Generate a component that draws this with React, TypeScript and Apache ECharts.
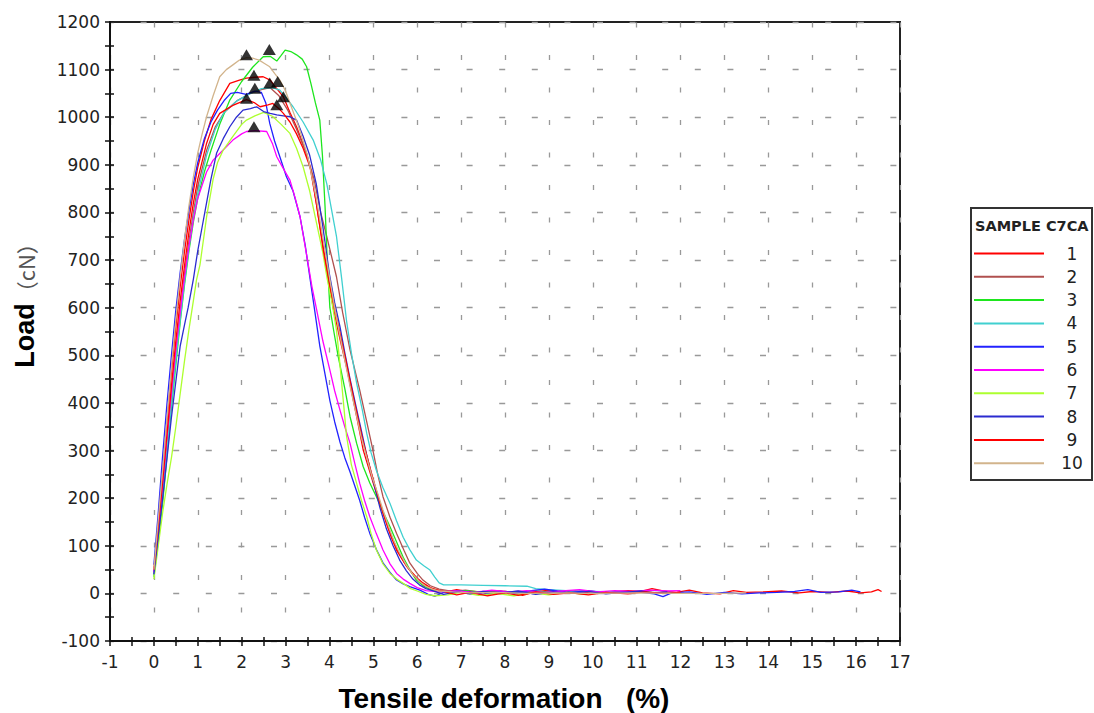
import React, { useEffect, useRef } from "react";
import * as echarts from "echarts";

const sampleNames = ["1", "2", "3", "4", "5", "6", "7", "8", "9", "10"];
const sampleColors = ["#ff0000", "#b0504f", "#1ee61e", "#40d0d0", "#2222ff", "#ff00ff", "#adff2f", "#2b2bd0", "#ff0000", "#d2b48c"];

const s1 = [[0,40],[0.1,150],[0.2,255],[0.3,360],[0.4,465],[0.5,560],[0.6,645],[0.7,720],[0.8,785],[0.9,845],[1.0,895],[1.15,950],[1.3,995],[1.5,1035],[1.73,1071],[1.95,1078],[2.11,1082],[2.3,1084],[2.49,1085],[2.65,1078],[2.8,1060],[2.95,1043],[3.1,1010],[3.25,980],[3.48,924],[3.6,880],[3.75,790],[3.9,705],[4.08,602],[4.25,530],[4.39,475],[4.62,371],[4.77,301],[5.0,231],[5.22,168],[5.4,120],[5.53,91],[5.7,65],[5.83,49],[6.0,32],[6.13,22],[6.3,12],[6.5,6],[6.7,4],[6.9,8],[7.2,3],[7.5,-2],[7.8,5],[8.1,2],[8.4,-4],[8.7,3],[9.0,7],[9.3,2],[9.6,5],[10.0,0],[10.4,3],[10.8,6],[11.1,4],[11.35,10],[11.6,5],[11.9,2],[12.2,7],[12.5,1],[12.9,-1],[13.2,6],[13.5,2],[13.9,3],[14.3,5],[14.7,1],[15.0,4],[15.4,2],[15.8,5],[16.1,1],[16.35,3],[16.5,8],[16.58,4]];
const s2 = [[0,45],[0.1,130],[0.2,220],[0.3,320],[0.4,415],[0.5,505],[0.6,590],[0.7,670],[0.8,740],[0.9,800],[1.0,855],[1.2,930],[1.4,980],[1.6,1010],[1.9,1035],[2.2,1050],[2.45,1058],[2.65,1062],[2.85,1045],[3.05,1015],[3.25,975],[3.45,930],[3.65,870],[3.8,800],[3.94,749],[4.16,665],[4.3,590],[4.47,511],[4.69,427],[4.85,360],[4.99,301],[5.1,250],[5.22,203],[5.38,160],[5.53,126],[5.7,90],[5.83,64],[6.0,42],[6.13,28],[6.3,16],[6.5,9],[6.8,4],[7.1,7],[7.5,2],[7.9,5],[8.3,1],[8.8,4],[9.3,2],[9.8,5],[10.3,1],[10.8,3],[11.2,2]];
const s3 = [[0,35],[0.1,110],[0.2,190],[0.3,290],[0.4,390],[0.5,480],[0.6,570],[0.7,650],[0.8,720],[0.9,780],[1.0,830],[1.15,885],[1.3,930],[1.5,985],[1.73,1036],[2.0,1075],[2.25,1105],[2.49,1127],[2.65,1128],[2.8,1118],[2.9,1130],[2.99,1141],[3.12,1138],[3.25,1131],[3.38,1122],[3.48,1106],[3.58,1070],[3.68,1030],[3.78,994],[3.84,920],[3.9,812],[3.95,700],[4.01,600],[4.1,550],[4.2,497],[4.35,430],[4.47,371],[4.62,315],[4.77,266],[4.92,232],[5.07,203],[5.22,172],[5.38,140],[5.53,108],[5.68,76],[5.83,50],[5.98,28],[6.15,15],[6.3,8],[6.5,4],[6.8,2],[7.1,6],[7.4,3],[7.7,0],[8.0,4],[8.4,1],[8.7,5],[9.0,2]];
const s4 = [[0,40],[0.1,125],[0.2,205],[0.3,300],[0.4,400],[0.5,490],[0.6,575],[0.7,655],[0.8,725],[0.9,790],[1.0,840],[1.2,920],[1.4,975],[1.6,1010],[1.9,1035],[2.2,1050],[2.45,1060],[2.7,1062],[2.87,1057],[3.02,1040],[3.17,1022],[3.4,990],[3.63,952],[3.8,910],[3.94,860],[4.05,805],[4.16,750],[4.28,660],[4.39,572],[4.5,505],[4.62,441],[4.75,385],[4.85,336],[4.95,295],[5.07,258],[5.22,222],[5.38,189],[5.53,152],[5.68,118],[5.83,92],[5.98,70],[6.15,58],[6.29,49],[6.4,34],[6.5,22],[6.6,18],[7.0,18],[7.5,17],[8.0,16],[8.5,15],[8.7,10],[9.0,8],[9.5,5],[10.0,4],[10.5,3],[11.0,2],[11.8,2]];
const s5 = [[0,60],[0.1,170],[0.2,290],[0.3,400],[0.4,500],[0.5,595],[0.6,675],[0.7,745],[0.8,805],[0.9,860],[1.0,905],[1.15,955],[1.3,990],[1.45,1015],[1.6,1035],[1.75,1050],[1.9,1052],[2.1,1048],[2.3,1055],[2.45,1052],[2.55,1030],[2.64,987],[2.75,950],[2.87,917],[3.02,875],[3.17,845],[3.33,791],[3.45,730],[3.56,660],[3.67,590],[3.78,520],[3.9,460],[4.01,405],[4.12,360],[4.24,318],[4.35,285],[4.47,255],[4.58,225],[4.69,195],[4.8,160],[4.92,126],[5.07,92],[5.22,64],[5.38,44],[5.53,28],[5.68,20],[5.83,14],[6.06,7],[6.25,-2],[6.4,-6],[6.6,2],[6.9,5],[7.2,3],[7.5,-2],[7.9,4],[8.2,0],[8.6,6],[8.9,9],[9.2,5],[9.5,2],[9.9,6],[10.3,1],[10.7,3],[11.1,2],[11.4,-1],[11.6,-7],[11.8,1],[12.2,3],[12.6,-2],[13.0,2],[13.4,-1],[13.8,1],[14.2,2],[14.6,4],[14.9,8],[15.2,2],[15.6,3],[15.9,7],[16.1,3]];
const s6 = [[0,45],[0.1,135],[0.2,230],[0.3,330],[0.4,420],[0.5,510],[0.6,590],[0.7,665],[0.8,730],[0.9,785],[1.0,830],[1.2,885],[1.35,910],[1.5,924],[1.8,952],[2.0,965],[2.11,970],[2.3,972],[2.57,970],[2.7,945],[2.8,917],[2.95,892],[3.1,868],[3.22,830],[3.33,791],[3.5,700],[3.6,645],[3.71,595],[3.85,530],[4.01,469],[4.12,425],[4.24,385],[4.35,350],[4.47,315],[4.58,272],[4.69,231],[4.8,195],[4.92,161],[5.07,125],[5.22,91],[5.38,62],[5.53,42],[5.68,30],[5.83,21],[6.0,12],[6.2,6],[6.5,3],[6.9,5],[7.3,2],[7.7,7],[8.1,3],[8.5,6],[8.9,2],[9.3,5],[9.7,8],[10.1,3],[10.5,6],[10.9,4],[11.3,7],[11.7,5],[12.0,6]];
const s7 = [[0,30],[0.1,100],[0.2,170],[0.3,230],[0.4,285],[0.5,350],[0.6,420],[0.7,490],[0.8,555],[0.9,615],[0.97,658],[1.05,690],[1.2,790],[1.35,870],[1.45,905],[1.58,931],[1.8,960],[2.0,985],[2.11,994],[2.3,1003],[2.5,1010],[2.7,1002],[2.9,985],[3.1,966],[3.25,935],[3.4,896],[3.55,845],[3.7,780],[3.85,715],[3.95,660],[4.06,610],[4.16,553],[4.22,500],[4.3,420],[4.39,330],[4.5,270],[4.62,231],[4.73,195],[4.85,161],[4.95,125],[5.07,91],[5.22,62],[5.38,42],[5.53,30],[5.68,21],[5.85,10],[6.0,5],[6.2,-2],[6.4,-5],[6.7,-3],[7.0,2],[7.4,-4],[7.8,0],[8.2,-5],[8.6,1],[9.0,-3],[9.4,2],[9.8,-2],[10.1,0]];
const s8 = [[0,40],[0.1,120],[0.2,200],[0.3,285],[0.4,370],[0.5,445],[0.6,520],[0.7,565],[0.78,600],[0.9,660],[1.0,720],[1.1,770],[1.2,820],[1.3,870],[1.43,925],[1.58,955],[1.73,980],[1.88,1000],[2.03,1015],[2.2,1018],[2.34,1022],[2.5,1012],[2.65,1008],[2.8,1005],[2.95,1003],[3.1,1001],[3.25,994],[3.4,960],[3.55,920],[3.7,860],[3.85,770],[4.0,670],[4.12,610],[4.24,560],[4.35,505],[4.47,450],[4.6,395],[4.72,345],[4.85,290],[5.0,235],[5.15,180],[5.3,135],[5.45,100],[5.6,70],[5.75,48],[5.9,30],[6.05,18],[6.2,10],[6.4,4],[6.6,-2],[6.9,3],[7.2,-1],[7.5,4],[7.9,1],[8.3,5],[8.7,-2],[9.1,3],[9.5,0],[9.9,4],[10.3,-1],[10.7,2],[11.1,5],[11.4,1],[11.7,3]];
const s9 = [[0,50],[0.1,140],[0.2,235],[0.3,335],[0.4,435],[0.5,530],[0.6,615],[0.7,690],[0.8,760],[0.9,820],[1.0,870],[1.2,945],[1.35,985],[1.5,1008],[1.8,1025],[2.11,1037],[2.3,1030],[2.42,1022],[2.6,1026],[2.71,1029],[2.85,1018],[2.95,1008],[3.1,990],[3.25,965],[3.4,935],[3.56,895],[3.7,820],[3.86,721],[4.0,650],[4.15,585],[4.35,500],[4.55,410],[4.75,325],[4.95,255],[5.15,190],[5.35,135],[5.55,90],[5.75,58],[5.95,35],[6.15,18],[6.35,9],[6.6,4],[6.9,-3],[7.2,2],[7.6,-5],[8.0,1],[8.3,-4],[8.7,3],[9.1,-2],[9.5,1],[9.9,-3],[10.3,2],[10.8,-1],[11.2,3],[11.6,0],[12.0,2]];
const s10 = [[0,50],[0.1,155],[0.2,260],[0.3,370],[0.4,475],[0.5,575],[0.6,665],[0.7,745],[0.8,815],[0.9,875],[1.0,925],[1.1,965],[1.2,1001],[1.35,1045],[1.5,1085],[1.65,1100],[1.8,1110],[1.95,1120],[2.11,1125],[2.25,1124],[2.4,1120],[2.52,1113],[2.64,1106],[2.75,1092],[2.87,1078],[3.0,1055],[3.1,1030],[3.2,1005],[3.3,980],[3.4,950],[3.5,920],[3.6,875],[3.7,830],[3.8,775],[3.9,720],[4.0,665],[4.1,610],[4.22,550],[4.35,490],[4.47,435],[4.6,380],[4.72,330],[4.85,285],[4.97,245],[5.1,210],[5.22,175],[5.35,140],[5.47,110],[5.6,85],[5.75,60],[5.9,40],[6.05,25],[6.2,15],[6.35,9],[6.5,5],[6.8,3],[7.2,1],[7.8,2],[8.5,0],[9.2,1],[10.0,0],[11.0,1],[12.0,0],[13.0,0],[13.5,1]];
const sampleData = [s1, s2, s3, s4, s5, s6, s7, s8, s9, s10];

const peakX = [2.11, 2.63, 2.28, 2.64, 2.82, 2.30, 2.11, 2.95, 2.80, 2.28];
const peakY = [1131, 1142, 1088, 1072, 1075, 1061, 1040, 1043, 1026, 980];

const xMin = -1, xMax = 17, xStep = 1;
const yMin = -100, yMax = 1200, yStep = 100;

const legendTitle = "SAMPLE C7CA";
const xTitle = "Tensile deformation\u00a0\u00a0\u00a0(%)";

export default function App() {
  const ref = useRef<HTMLDivElement>(null);
  useEffect(() => {
    const chart = echarts.init(ref.current!, null, { renderer: "svg" });
    const tickFont = { fontFamily: "DejaVu Sans", fontSize: 17, color: "#222" };
    const axisColor = "#111";
    const plain = (v: number) => String(v);
    const baseX = { type: "value", min: xMin, max: xMax, interval: xStep, gridIndex: 0 };
    const baseY = { type: "value", min: yMin, max: yMax, interval: yStep, gridIndex: 0 };
    const series: any[] = sampleData.map((d, i) => ({
      name: sampleNames[i],
      type: "line",
      data: d,
      color: sampleColors[i],
      showSymbol: false,
      symbol: "none",
      lineStyle: { width: 1.3, color: sampleColors[i] },
      xAxisIndex: 0,
      yAxisIndex: 0,
      silent: true,
      z: 3,
    }));
    series.push({
      name: "peaks",
      type: "scatter",
      data: peakX.map((x, i) => [x, peakY[i]]),
      symbol: "triangle",
      symbolSize: [13, 11],
      itemStyle: { color: "#000" },
      xAxisIndex: 0,
      yAxisIndex: 0,
      silent: true,
      z: 5,
    });
    chart.setOption({
      animation: false,
      backgroundColor: "#fff",
      grid: { left: 110, top: 22, width: 790, height: 619, show: true, borderColor: "#222", borderWidth: 2, backgroundColor: "transparent" },
      xAxis: [
        {
          ...baseX,
          position: "bottom",
          axisLine: { show: true, onZero: false, lineStyle: { color: axisColor, width: 2 } },
          axisTick: { show: true, inside: false, length: 5, lineStyle: { color: axisColor, width: 1.5 } },
          minorTick: { show: true, splitNumber: 2, length: 5, lineStyle: { color: axisColor, width: 1.5 } },
          axisLabel: { ...tickFont, margin: 12, formatter: plain },
          splitLine: { show: true, lineStyle: { color: "#999", width: 1.3, type: [5, 27.5], dashOffset: 31.5 } },
        },
        {
          ...baseX,
          position: "bottom",
          axisLine: { show: false, onZero: false },
          axisTick: { show: true, inside: true, length: 4, lineStyle: { color: axisColor, width: 1.5 } },
          minorTick: { show: true, splitNumber: 2, length: 4, lineStyle: { color: axisColor, width: 1.5 } },
          axisLabel: { show: false },
          splitLine: { show: false },
        },
      ],
      yAxis: [
        {
          ...baseY,
          position: "left",
          axisLine: { show: true, onZero: false, lineStyle: { color: axisColor, width: 2 } },
          axisTick: { show: true, inside: false, length: 5, lineStyle: { color: axisColor, width: 1.5 } },
          minorTick: { show: true, splitNumber: 2, length: 5, lineStyle: { color: axisColor, width: 1.5 } },
          axisLabel: { ...tickFont, margin: 10, formatter: plain },
          splitLine: { show: true, lineStyle: { color: "#999", width: 1.3, type: [6, 26.6], dashOffset: 1.6 } },
        },
        {
          ...baseY,
          position: "left",
          axisLine: { show: false, onZero: false },
          axisTick: { show: true, inside: true, length: 4, lineStyle: { color: axisColor, width: 1.5 } },
          minorTick: { show: true, splitNumber: 2, length: 4, lineStyle: { color: axisColor, width: 1.5 } },
          axisLabel: { show: false },
          splitLine: { show: false },
        },
      ],
      legend: {
        data: sampleNames,
        orient: "vertical",
        left: 974,
        top: 245,
        padding: 0,
        itemWidth: 70,
        itemHeight: 2,
        icon: "rect",
        itemGap: 6.3,
        selectedMode: false,
        formatter: (n: string) => `{c|${n}}`,
        textStyle: {
          rich: { c: { width: 46, align: "center", fontSize: 17, fontFamily: "DejaVu Sans", color: "#222", lineHeight: 17 } },
        },
      },
      graphic: [
        { type: "rect", shape: { x: 971, y: 208, width: 121, height: 272 }, style: { fill: "none", stroke: "#333", lineWidth: 2 } },
        { type: "text", x: 975, y: 226, style: { text: legendTitle, fontSize: 14.5, fontWeight: "bold", fontFamily: "DejaVu Sans", fill: "#222", verticalAlign: "middle" } },
        {
          type: "text",
          x: 25,
          y: 300,
          rotation: Math.PI / 2,
          style: {
            text: "{b|Load}{n|（cN）}",
            align: "center",
            verticalAlign: "middle",
            rich: {
              b: { fontSize: 27, fontWeight: "bold", fontFamily: "Liberation Sans", fill: "#000" },
              n: { fontSize: 22, fontFamily: "Noto Sans CJK SC", fill: "#555" },
            },
          },
        },
        { type: "text", x: 504, y: 698, style: { text: xTitle, fontSize: 28, fontWeight: "bold", fontFamily: "Liberation Sans", fill: "#000", align: "center", verticalAlign: "middle" } },
      ],
      series,
    });
    return () => chart.dispose();
  }, []);
  return <div ref={ref} style={{ position: "fixed", left: 0, top: 0, width: 1094, height: 713, background: "#fff" }} />;
}
